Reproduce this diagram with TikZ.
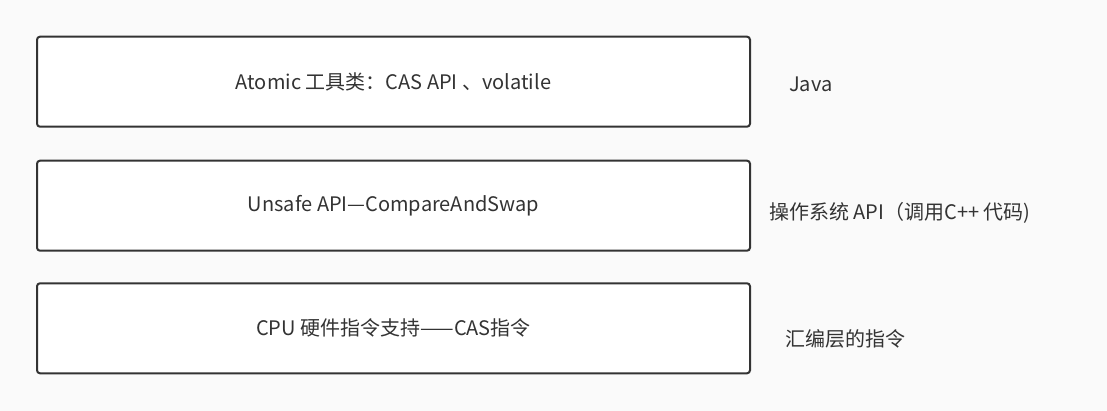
\documentclass[tikz,border=0pt]{standalone}
\usepackage{fontspec}
\setmainfont{Noto Sans CJK SC}
\usetikzlibrary{positioning}

\begin{document}
\begin{tikzpicture}[x=1pt, y=-1pt, font=\fontsize{20}{24}\selectfont, text=black!80]

%DISTANCE SETTINGS
\tikzstyle{layer}=[draw=black!80, line width=2pt, fill=white, rounded corners=3pt,
	minimum width=713pt, minimum height=90pt, inner sep=0pt]
\tikzstyle{side}=[anchor=west, inner sep=0pt]
%BACKGROUND
\fill[black!2] (0,0) rectangle (1107,411);
\useasboundingbox (0,0) rectangle (1107,411);
%NODES
\node[layer] (atomic) at (393.5,81.7) {Atomic 工具类：CAS API 、volatile};
\node[layer, below=32pt of atomic] (unsafe) {Unsafe API—CompareAndSwap};
\node[layer, below=30.6pt of unsafe] (cpu) {CPU 硬件指令支持——CAS指令};
%LABELS
\node[side] (java) at (789,84) {Java};
\node[side] (os) at (769,213) {操作系统 API（调用C++ 代码)};
\node[side] (asm) at (785,339) {汇编层的指令};

\end{tikzpicture}
\end{document}
